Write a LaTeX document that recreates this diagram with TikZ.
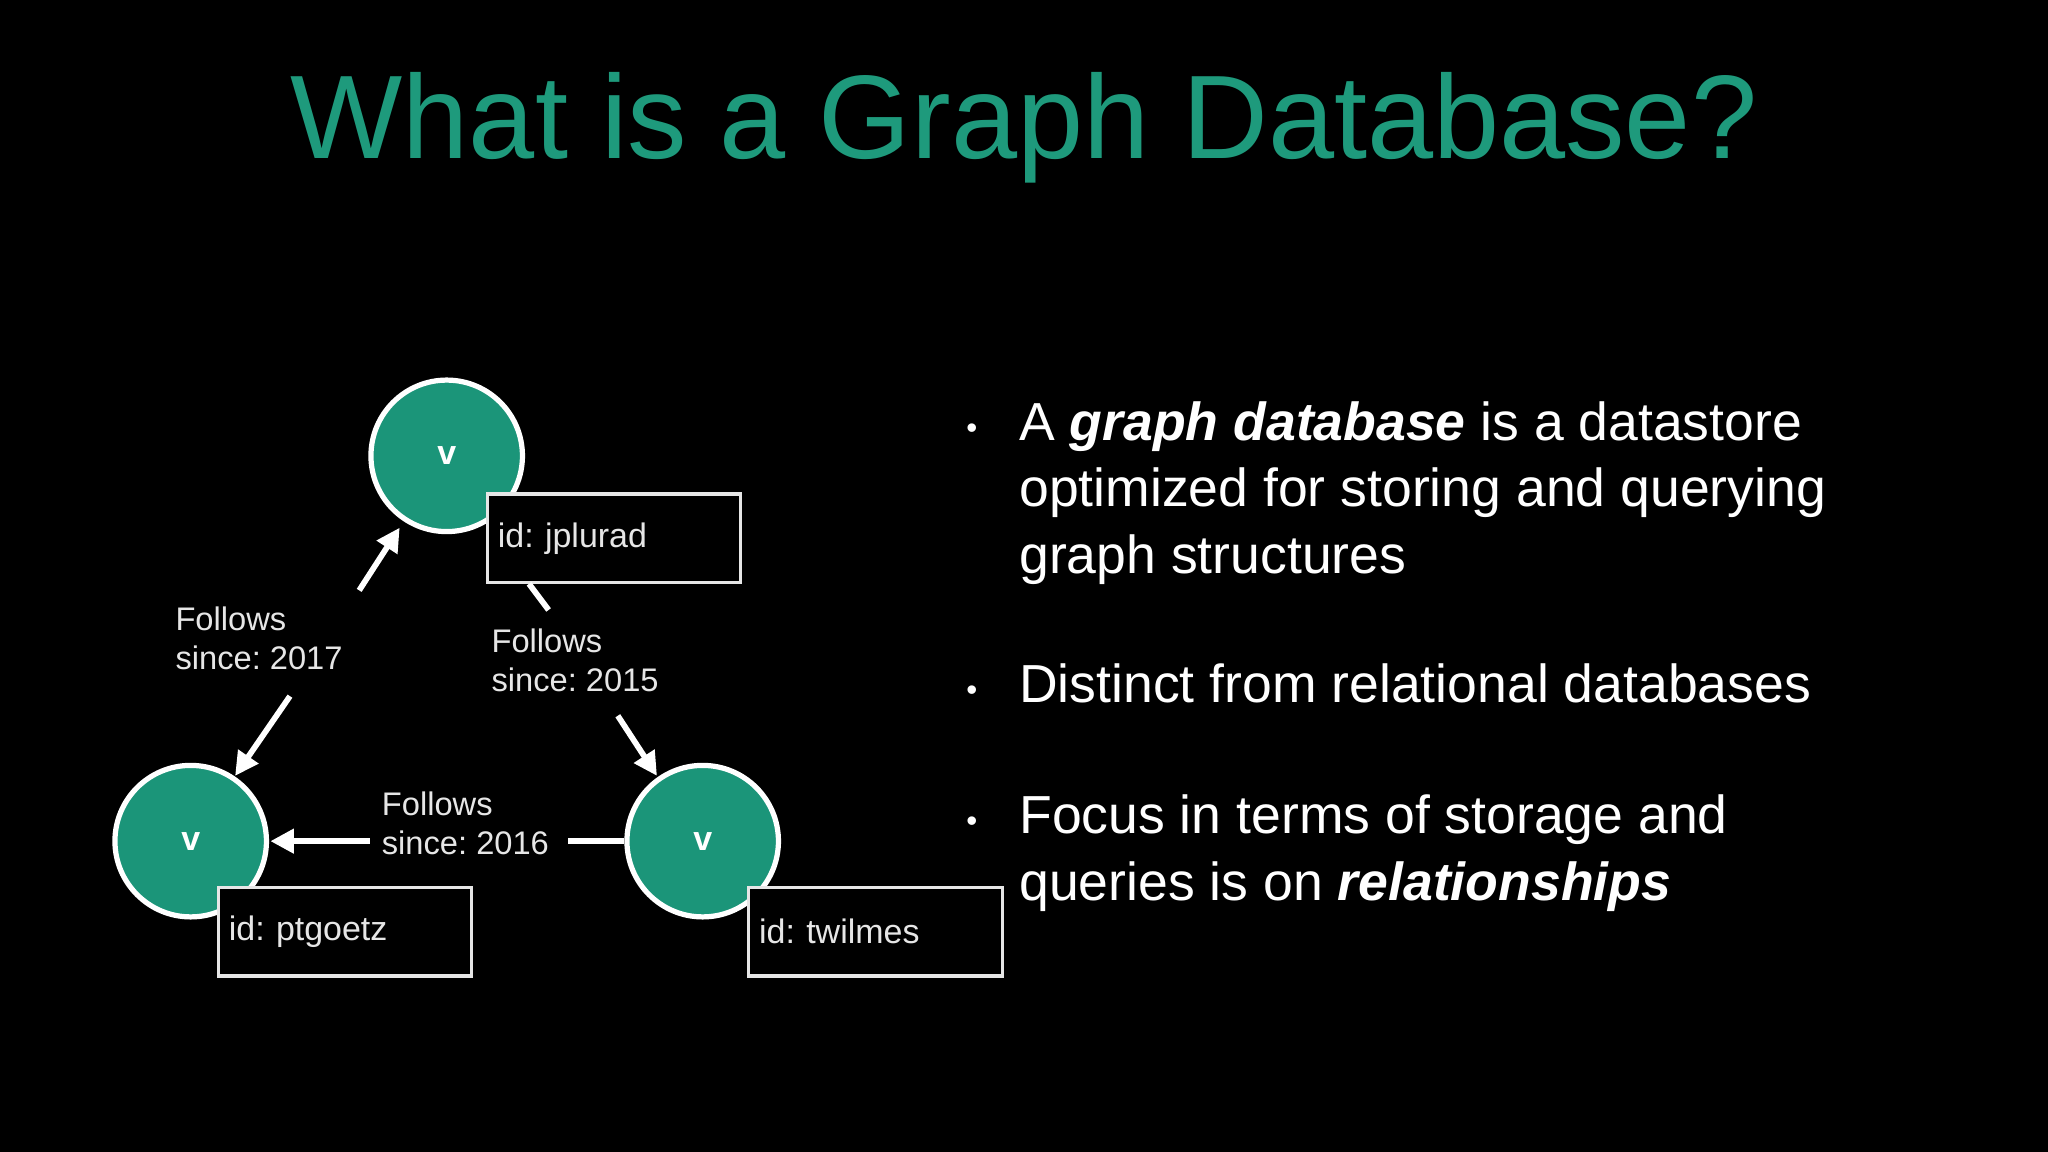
\documentclass[tikz,border=0pt]{standalone}
\usepackage{fontspec}
\setmainfont{Liberation Sans}
\usetikzlibrary{arrows.meta}
\definecolor{tgreen}{HTML}{1E9A7C}
\definecolor{cgreen}{HTML}{1B9579}
\definecolor{lgray}{HTML}{E6E6E6}
\begin{document}
\frenchspacing
\begin{tikzpicture}[x=0.5pt,y=-0.5pt,
  vert/.style={circle,fill=cgreen,draw=white,line width=2pt,minimum size=58pt,inner sep=0pt,text=white,font=\bfseries\fontsize{13}{13}\selectfont},
  idbox/.style={draw=lgray,line width=1.2pt,fill=black,minimum width=97pt,minimum height=34pt,anchor=north west,text=lgray,font=\fontsize{13}{13}\selectfont,text width=89pt,align=left},
  lbl/.style={text=lgray,font=\fontsize{12.5}{15}\selectfont,align=left,anchor=north west,inner sep=0pt},
  edge/.style={draw=white,line width=2.2pt},
  arr/.style={edge,-{Triangle[length=9pt,width=9pt]}},
  bul/.style={text=white,font=\fontsize{20.5}{25.5}\selectfont,align=left,anchor=north west,inner sep=0pt}]
\fill[black] (0,0) rectangle (1568,882);
\node[text=tgreen,font=\fontsize{45.5}{45.5}\selectfont] (title) at (784,98) {What is a Graph Database?};
\node[vert] (a) at (342,349) {v};
\node[vert] (b) at (146,644) {v};
\node[vert] (c) at (538,644) {v};
\node[idbox] (ia) at (372,377) {id: jplurad};
\node[idbox] (ib) at (166,678) {id: ptgoetz};
\node[idbox] (ic) at (572,678) {id: twilmes};
\node[lbl] (l1) at (134,464) {Follows\\since: 2017};
\node[lbl] (l2) at (376,481) {Follows\\since: 2015};
\node[lbl] (l3) at (292,606) {Follows\\since: 2016};
\coordinate (p1) at (275,452); \coordinate (q1) at (306,404);
\coordinate (p2) at (222,533); \coordinate (q2) at (180,594);
\coordinate (p3) at (405,447); \coordinate (q3) at (420,467);
\coordinate (p4) at (473,548); \coordinate (q4) at (503,594);
\coordinate (p5) at (283,644); \coordinate (q5) at (207,644);
\coordinate (p6) at (435,644); \coordinate (q6) at (478,644);
\draw[arr] (p1) -- (q1);
\draw[arr] (p2) -- (q2);
\draw[edge] (p3) -- (q3);
\draw[arr] (p4) -- (q4);
\draw[arr] (p5) -- (q5);
\draw[edge] (p6) -- (q6);
\node[bul] (t1) at (780,307) {A \textbf{\textit{graph database}} is a datastore\\optimized for storing and querying\\graph structures};
\node[bul] (t2) at (780,508) {Distinct from relational databases};
\node[bul] (t3) at (780,608) {Focus in terms of storage and\\queries is on \textbf{\textit{relationships}}};
\foreach \y/\n in {330/d1,531/d2,631/d3} \node[text=white,font=\fontsize{12}{12}\selectfont] (\n) at (744,\y) {•};
\end{tikzpicture}
\end{document}
